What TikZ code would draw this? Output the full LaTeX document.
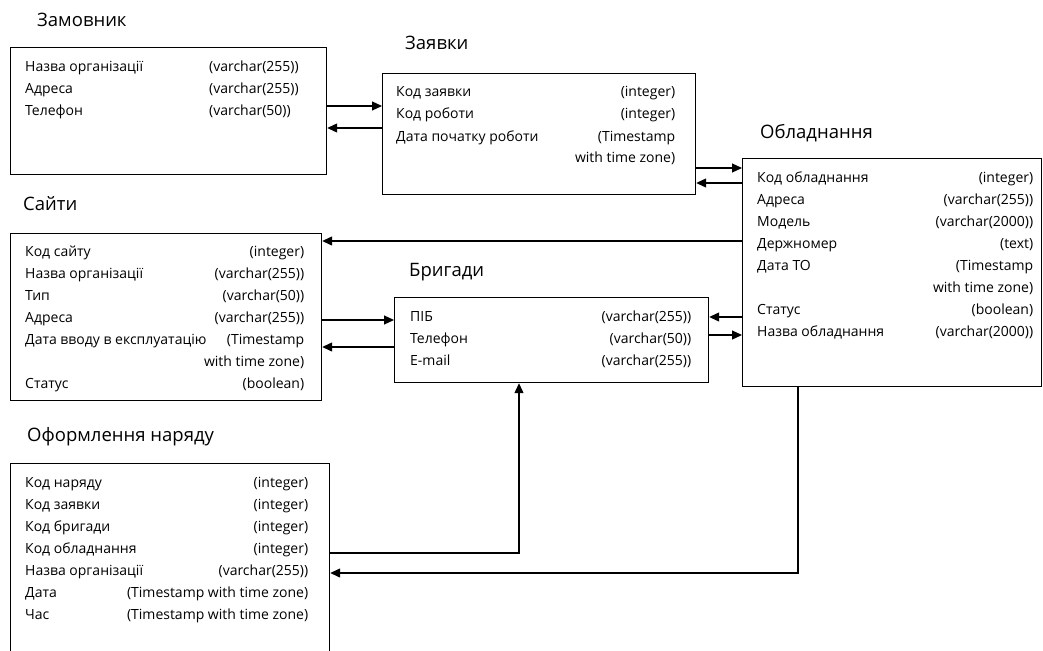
\documentclass[tikz,border=0pt]{standalone}
\usepackage{fontspec}
\setmainfont{Open Sans}
\usepackage{tikz}
\usetikzlibrary{arrows.meta}
\tikzstyle{line} = [draw, -{Triangle[length=10pt,width=9pt]}, line width=1.2pt]
\tikzstyle{tbl} = [draw, line width=1.2pt, anchor=north west, inner sep=0pt]
\tikzstyle{ttl} = [anchor=base west, inner sep=0pt, font=\fontsize{18.5}{22}\selectfont]
\tikzstyle{rows} = [anchor=base west, inner sep=0pt, font=\fontsize{14}{22}\selectfont]

\begin{document}
\begin{tikzpicture}[x=1pt,y=-1pt]
	\useasboundingbox (0,0) rectangle (1043,650);
	\clip (0,0) rectangle (1043,650);

	% ------------------- Titles ------------------- %
	\node[ttl] (zam-t) at (37,27) {Замовник};
	\node[ttl] (zay-t) at (405,50) {Заявки};
	\node[ttl] (obl-t) at (760,138) {Обладнання};
	\node[ttl] (sai-t) at (23,210) {Сайти};
	\node[ttl] (bri-t) at (409,276) {Бригади};
	\node[ttl] (ofo-t) at (27,441) {Оформлення наряду};

	% ------------------- Tables ------------------- %
	\node[tbl, minimum width=316pt, minimum height=127pt] (zam) at (10,47) {};
	\node[rows] (zam-r) at (25,72) {\begin{tabular}[t]{@{}p{184pt}@{}l@{}}
		Назва організації & (varchar(255))\\
		Адреса & (varchar(255))\\
		Телефон & (varchar(50))
	\end{tabular}};

	\node[tbl, minimum width=313pt, minimum height=121pt] (zay) at (382,73) {};
	\node[rows] (zay-r) at (396,97) {\begin{tabular}[t]{@{}p{279pt}@{}}
		Код заявки \hfill (integer)\\
		Код роботи \hfill (integer)\\
		Дата початку роботи \hfill (Timestamp\\
		\hfill with time zone)
	\end{tabular}};

	\node[tbl, minimum width=299pt, minimum height=228pt] (obl) at (742,158) {};
	\node[rows] (obl-r) at (757,182) {\begin{tabular}[t]{@{}p{276pt}@{}}
		Код обладнання \hfill (integer)\\
		Адреса \hfill (varchar(255))\\
		Модель \hfill (varchar(2000))\\
		Держномер \hfill (text)\\
		Дата ТО \hfill (Timestamp\\
		\hfill with time zone)\\
		Статус \hfill (boolean)\\
		Назва обладнання \hfill (varchar(2000))
	\end{tabular}};

	\node[tbl, minimum width=311pt, minimum height=167pt] (sai) at (10,233) {};
	\node[rows] (sai-r) at (25,256) {\begin{tabular}[t]{@{}p{279pt}@{}}
		Код сайту \hfill (integer)\\
		Назва організації \hfill (varchar(255))\\
		Тип \hfill (varchar(50))\\
		Адреса \hfill (varchar(255))\\
		Дата вводу в експлуатацію \hfill (Timestamp\\
		\hfill with time zone)\\
		Статус \hfill (boolean)
	\end{tabular}};

	\node[tbl, minimum width=314pt, minimum height=85pt] (bri) at (394,297) {};
	\node[rows] (bri-r) at (410,321) {\begin{tabular}[t]{@{}p{281pt}@{}}
		ПІБ \hfill (varchar(255))\\
		Телефон \hfill (varchar(50))\\
		E-mail \hfill (varchar(255))
	\end{tabular}};

	\node[tbl, minimum width=319pt, minimum height=210pt] (ofo) at (10,463) {};
	\node[rows] (ofo-r) at (25,487) {\begin{tabular}[t]{@{}p{283pt}@{}}
		Код наряду \hfill (integer)\\
		Код заявки \hfill (integer)\\
		Код бригади \hfill (integer)\\
		Код обладнання \hfill (integer)\\
		Назва організації \hfill (varchar(255))\\
		Дата \hfill (Timestamp with time zone)\\
		Час \hfill (Timestamp with time zone)
	\end{tabular}};

	% ------------------- Connectors ------------------- %
	\draw[line] (zam.east |- 0,106) -- (zay.west |- 0,106);
	\draw[line] (zay.west |- 0,128) -- (zam.east |- 0,128);

	\draw[line] (zay.east |- 0,168) -- (obl.west |- 0,168);
	\draw[line] (obl.west |- 0,183) -- (zay.east |- 0,183);

	\draw[line] (obl.west |- 0,241) -- (sai.east |- 0,241);

	\draw[line] (sai.east |- 0,320) -- (bri.west |- 0,320);
	\draw[line] (bri.west |- 0,347) -- (sai.east |- 0,347);

	\draw[line] (obl.west |- 0,317) -- (bri.east |- 0,317);
	\draw[line] (bri.east |- 0,335) -- (obl.west |- 0,335);

	\draw[line] (ofo.east |- 0,553) -| (bri.south -| 519,0);
	\draw[line] (obl.south -| 798,0) |- (ofo.east |- 0,573);
\end{tikzpicture}
\end{document}
